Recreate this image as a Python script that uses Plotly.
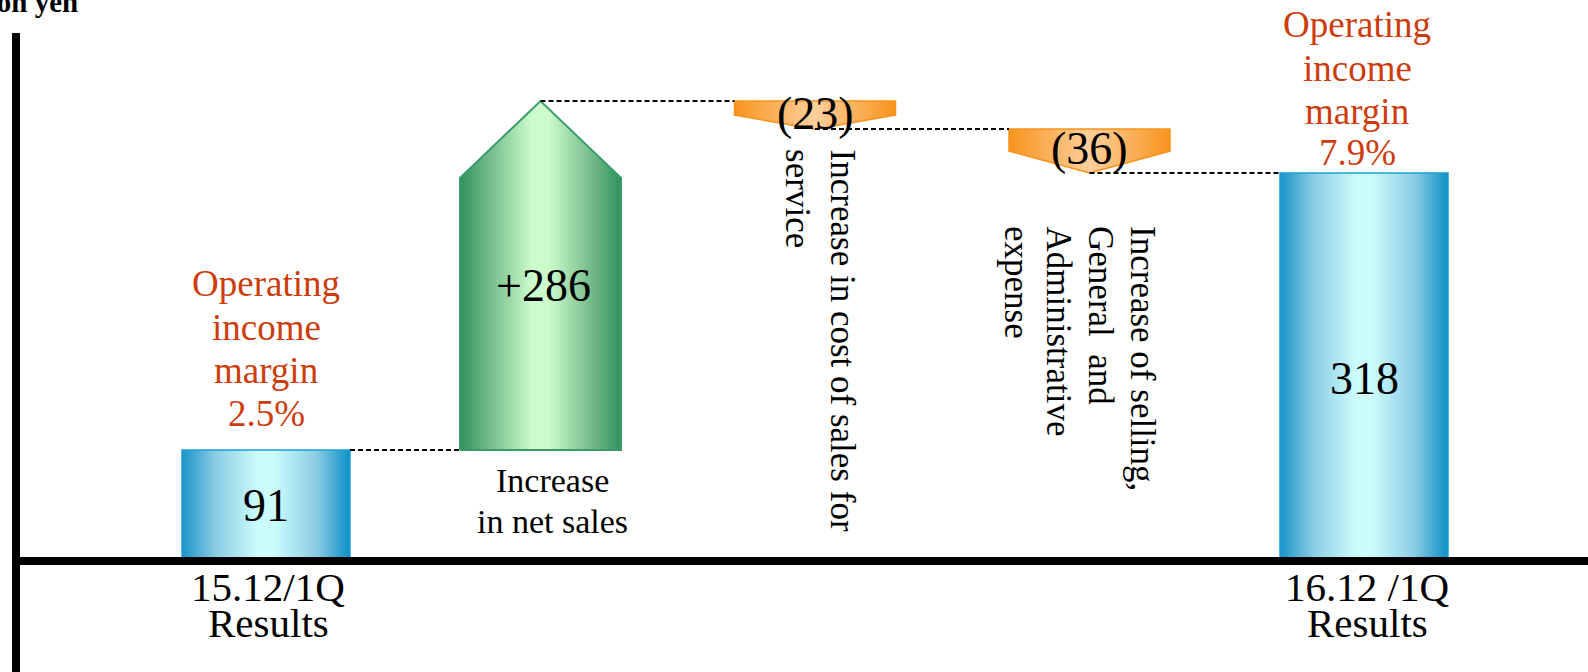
import plotly.graph_objects as go

# ---------------- data ----------------
categories = ["15.12/1Q Results", "Increase in net sales",
              "Increase in cost of sales for service",
              "Increase of selling, General and Administrative expense",
              "16.12 /1Q Results"]
start_value = 91
delta_values = [286, -23, -36]
end_value = 318
value_labels = ["91", "+286", "(23)", "(36)", "318"]
margin_labels = ["2.5%", "7.9%"]
category_lines = [["15.12/1Q", "Results"],
                  ["Increase", "in net sales"],
                  ["Increase in cost of sales for", "service"],
                  ["Increase of selling,", "General\u00a0 and", "Administrative", "expense"],
                  ["16.12 /1Q", "Results"]]
margin_title = ["Operating", "income", "margin"]
unit_label = "Unit: 100 million yen"

# ---------------- layout constants ----------------
W, H = 1588, 672
PX_PER_UNIT = 1.22
ZERO_PX = 561
X0_PX, STEP_PX = 266, 274.5
BAR_HW = 84 / STEP_PX
DELTA_HW = 80.5 / STEP_PX
FONT = "Liberation Serif, Times New Roman, serif"
RED = "#CC3C0C"

levels = [start_value]
for d in delta_values:
    levels.append(levels[-1] + d)

BLUE_SCALE = [[0, "#1B93C9"], [0.2, "#8ACDE4"], [0.45, "#CCFCFC"], [0.55, "#CCFCFC"],
              [0.8, "#8ACDE4"], [1, "#0E8FC6"]]
GREEN_SCALE = [[0, "#31925D"], [0.2, "#7ABF8E"], [0.45, "#CCFCCC"], [0.55, "#CCFCCC"],
               [0.8, "#7ABF8E"], [1, "#31925D"]]
ORANGE_SCALE = [[0, "#F7941D"], [0.5, "#FFCF9C"], [1, "#F7941D"]]

fig = go.Figure()


def poly(xs, ys, scale, edge, width=1.5):
    fig.add_trace(go.Scatter(
        x=xs, y=ys, mode="lines", fill="toself",
        fillgradient=dict(type="horizontal", colorscale=scale),
        line=dict(color=edge, width=width), hoverinfo="skip", showlegend=False))


# start bar
poly([0 - BAR_HW, 0 + BAR_HW, 0 + BAR_HW, 0 - BAR_HW, 0 - BAR_HW],
     [0, 0, start_value, start_value, 0], BLUE_SCALE, "#1AA0D8")
# end bar
i_end = len(categories) - 1
poly([i_end - BAR_HW, i_end + BAR_HW, i_end + BAR_HW, i_end - BAR_HW, i_end - BAR_HW],
     [0, 0, end_value, end_value, 0], BLUE_SCALE, "#1AA0D8")

# delta arrows
for k, d in enumerate(delta_values):
    i = k + 1
    p, n = levels[k], levels[k + 1]
    xs = [i - DELTA_HW, i + DELTA_HW, i + DELTA_HW, i, i - DELTA_HW, i - DELTA_HW]
    if d > 0:
        s = n - 0.22 * (n - p)
        ys = [p, p, s, n, s, p]
        poly(xs, ys, GREEN_SCALE, "#3A9A6A", 2)
    else:
        s = p - 0.5 * (p - n)
        ys = [p, p, s, n, s, p]
        poly(xs, ys, ORANGE_SCALE, "#F7941D", 1.5)

# connectors
for k in range(len(levels)):
    x_from = k + BAR_HW if k == 0 else k
    nxt = k + 1
    hw = BAR_HW if nxt == i_end else DELTA_HW
    fig.add_trace(go.Scatter(
        x=[x_from, nxt - hw], y=[levels[k], levels[k]], mode="lines",
        line=dict(color="black", width=2, dash="5px,3px"),
        hoverinfo="skip", showlegend=False))

# value labels
val_y = [start_value / 2]
for k, d in enumerate(delta_values):
    p, n = levels[k], levels[k + 1]
    val_y.append(p + 0.47 * d if d > 0 else p - 0.44 * (p - n))
val_y.append(end_value * 0.47)
for i, (lbl, y) in enumerate(zip(value_labels, val_y)):
    fig.add_annotation(x=i, y=y, text=lbl, showarrow=False,
                       font=dict(family=FONT, size=46, color="black"),
                       xshift=3 if i == 1 else 0)


def add_lines(x, y, lines, shifts, size, color, xshift=0):
    for line, ys in zip(lines, shifts):
        fig.add_annotation(x=x, y=y, text=line, showarrow=False, yanchor="middle",
                           xshift=xshift, yshift=ys,
                           font=dict(family=FONT, size=size, color=color))


# margin labels above bars
add_lines(0, start_value, margin_title + [margin_labels[0]], [166, 122, 79, 36], 37, RED, 0)
add_lines(i_end, end_value, margin_title + [margin_labels[1]], [149, 105, 62, 21], 37, RED, -7)

# category labels under bars
add_lines(0, 0, category_lines[0], [-26, -62], 41, "black", 2)
add_lines(i_end, 0, category_lines[i_end], [-26, -62], 41, "black", 3)
# under green arrow
add_lines(1, levels[0], category_lines[1], [-31, -72], 34, "black", 12)

# rotated labels under orange arrows (each line placed separately, top-aligned)
for k, ysh, xc, spacing in [(2, -18, 5, 45), (3, -51, -10, 42)]:
    lines = category_lines[k]
    nl = len(lines)
    for j, line in enumerate(lines):
        fig.add_annotation(x=k, y=levels[k], text=line,
                           showarrow=False, textangle=90,
                           xanchor="center", yanchor="top", yshift=ysh,
                           xshift=xc + spacing * ((nl - 1) / 2 - j),
                           font=dict(family=FONT, size=35, color="black"))

# unit label (partly cut off at top-left)
fig.add_annotation(xref="paper", yref="paper", x=80 / W, y=(H - 20) / H,
                   xanchor="right", yanchor="bottom", text="<b>" + unit_label + "</b>",
                   showarrow=False, font=dict(family=FONT, size=29, color="black"))

# axis lines
fig.add_shape(type="line", xref="paper", yref="paper", x0=16 / W, x1=16 / W,
              y0=(H - 33) / H, y1=0, line=dict(color="black", width=8))
fig.add_shape(type="line", xref="paper", yref="y", x0=12 / W, x1=1,
              y0=0, y1=0, line=dict(color="black", width=8))

fig.update_layout(
    width=W, height=H, margin=dict(l=0, r=0, t=0, b=0),
    paper_bgcolor="white", plot_bgcolor="white", showlegend=False,
    xaxis=dict(range=[-X0_PX / STEP_PX, (W - X0_PX) / STEP_PX], visible=False, fixedrange=True),
    yaxis=dict(range=[-(H - ZERO_PX) / PX_PER_UNIT, ZERO_PX / PX_PER_UNIT], visible=False,
               fixedrange=True),
)

fig.write_html("out.html", config={"displayModeBar": False},
               post_script="document.body.style.margin='0px';")
